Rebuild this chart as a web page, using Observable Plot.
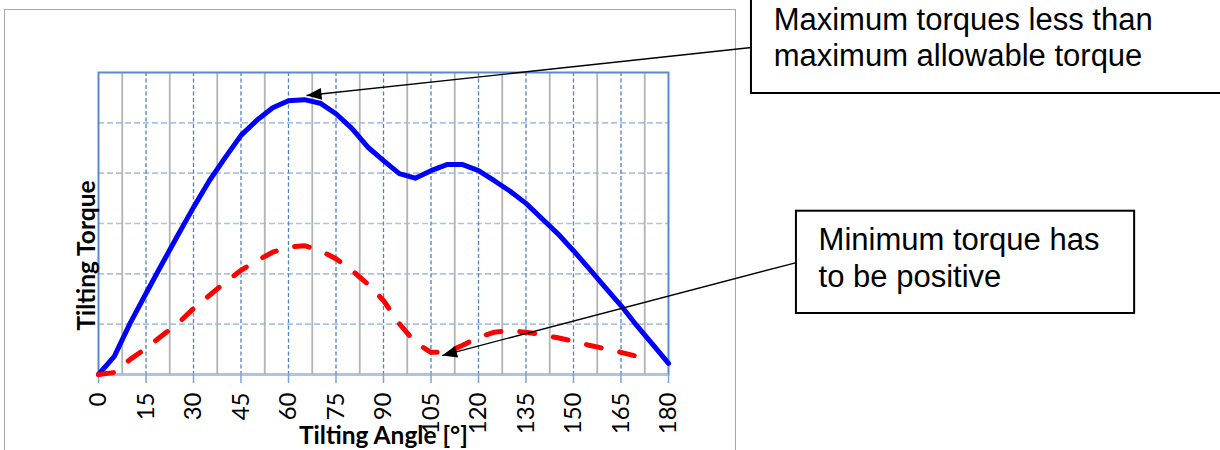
<!DOCTYPE html>
<html>
<head>
<meta charset="utf-8">
<script src="https://cdn.jsdelivr.net/npm/d3@7"></script>
<script src="https://cdn.jsdelivr.net/npm/@observablehq/plot@0.6"></script>
<style>
html, body { margin: 0; padding: 0; background: #fff; }
#wrap { position: relative; width: 1220px; height: 450px; overflow: hidden; background: #fff; }
#chartArea { position: absolute; left: 4px; top: 9px; width: 732px; height: 470px; border: 1.5px solid #a6a6a6; box-sizing: border-box; }
#plot { position: absolute; left: 0; top: 0; }
</style>
</head>
<body>
<div id="wrap"><div id="chartArea"></div><div id="plot"></div></div>
<script>
// ---- data ----
const angles = [0,5,10,15,20,25,30,35,40,45,50,55,60,65,70,75,80,85,90,95,100,105,110,115,120,125,130,135,140,145,150,155,160,165,170,175,180];
const maxTorque = [0,0.36,1.02,1.61,2.19,2.76,3.32,3.85,4.31,4.75,5.05,5.3,5.44,5.46,5.39,5.18,4.89,4.52,4.25,3.99,3.9,4.05,4.17,4.17,4.05,3.85,3.64,3.4,3.1,2.8,2.46,2.1,1.73,1.37,0.97,0.6,0.22];
const minTorque = [0,0.04,0.3,0.52,0.77,1.01,1.31,1.57,1.83,2.07,2.26,2.43,2.53,2.56,2.46,2.3,2.07,1.8,1.47,1.01,0.64,0.44,0.44,0.58,0.74,0.84,0.87,0.84,0.79,0.73,0.66,0.58,0.51,0.44,0.36,0.29];
const xTicks = [0,15,30,45,60,75,90,105,120,135,150,165,180];
const xMinorGrid = [7.5,22.5,37.5,52.5,67.5,82.5,97.5,112.5,127.5,142.5,157.5,172.5];
const yGrid = [1,2,3,4,5];
const xTitle = "Tilting Angle [°]";
const yTitle = "Tilting Torque";
const noteTexts = ["Maximum torques less than\nmaximum allowable torque", "Minimum torque has\nto be positive"];
// annotation anchors in data units (angle, torque)
const noteBoxX1 = [206.2, 220.4], noteBoxX2 = [370, 327.2];
const noteBoxY1 = [5.583, 1.212], noteBoxY2 = [8.5, 3.244];
const noteTextX = [213.2, 227.4], noteTextY = [6.12, 1.734];
const noteFromX = [206.2, 220.4], noteFromY = [6.497, 2.225];
const noteTipX = [65.7, 108.5], noteTipY = [5.543, 0.377];

// ---- layout ----
const W = 1220, H = 450;
const mL = 98, mR = 552, mT = 72, mB = 76;
const xDomain = [0, 180], yDomain = [0, 6];

const maxData = angles.map((a, i) => ({angle: a, torque: maxTorque[i]}));
const minData = minTorque.map((t, i) => ({angle: angles[i], torque: t}));

const sx = Plot.scale({x: {domain: xDomain, range: [mL, W - mR]}});
const sy = Plot.scale({y: {domain: yDomain, range: [H - mB, mT]}});
const notes = noteTexts.map((t, i) => {
  const dx = sx.apply(noteTipX[i]) - sx.apply(noteFromX[i]);
  const dy = sy.apply(noteTipY[i]) - sy.apply(noteFromY[i]);
  return {
    text: t, bx1: noteBoxX1[i], bx2: noteBoxX2[i], by1: noteBoxY1[i], by2: noteBoxY2[i],
    tx: noteTextX[i], ty: noteTextY[i], fx: noteFromX[i], fy: noteFromY[i],
    px: noteTipX[i], py: noteTipY[i], rot: Math.atan2(dx, -dy) * 180 / Math.PI
  };
});
const arrowHead = {draw(ctx) { ctx.moveTo(0, 0); ctx.lineTo(-6, 15); ctx.lineTo(6, 15); ctx.closePath(); }};

const chart = Plot.plot({
  width: W, height: H,
  marginLeft: mL, marginRight: mR, marginTop: mT, marginBottom: mB,
  style: {background: "transparent", overflow: "visible"},
  x: {domain: xDomain, range: [mL, W - mR]},
  y: {domain: yDomain, range: [H - mB, mT], axis: null},
  marks: [
    Plot.ruleY(yGrid, {stroke: "#a9c3e9", strokeWidth: 1.6, strokeDasharray: "6,3"}),
    Plot.ruleX(xMinorGrid, {stroke: "#b3b3b3", strokeWidth: 1.8}),
    Plot.ruleX(xTicks.slice(1, -1), {stroke: "#4f82c6", strokeWidth: 1.3, strokeDasharray: "4,2.5"}),
    Plot.frame({stroke: "#5a89cc", strokeWidth: 2}),
    Plot.ruleY([0], {stroke: "#a9c3e9", strokeWidth: 2}),
    Plot.axisX({ticks: xTicks, tickSize: 9, tickPadding: 9, tickRotate: -90, stroke: "#7ea3da", strokeWidth: 1.5,
      fill: "black", fontSize: 24, fontFamily: "Lato", label: null, tickFormat: d => String(d)}),
    Plot.text([xTitle], {text: d => d, frameAnchor: "bottom", textAnchor: "middle", dy: 69, lineAnchor: "bottom", fontWeight: "bold", fontSize: 24.5, fontFamily: "Lato", fill: "black"}),
    Plot.text([yTitle], {text: d => d, frameAnchor: "left", textAnchor: "middle", rotate: -90, dx: -4, dy: 32, lineAnchor: "bottom", fontWeight: "bold", fontSize: 24.5, fontFamily: "Lato", fill: "black"}),
    Plot.line(maxData, {x: "angle", y: "torque", stroke: "#0000ff", strokeWidth: 5, strokeLinejoin: "round"}),
    Plot.line(minData, {x: "angle", y: "torque", stroke: "#ff0000", strokeWidth: 5, strokeDasharray: "15,19", strokeLinecap: "round", strokeLinejoin: "round"}),
    Plot.link(notes, {x1: "fx", y1: "fy", x2: "px", y2: "py", stroke: "black", strokeWidth: 1.3}),
    Plot.dot(notes, {x: "px", y: "py", symbol: arrowHead, rotate: "rot", fill: "black", stroke: "none"}),
    Plot.rect(notes, {x1: "bx1", x2: "bx2", y1: "by1", y2: "by2", fill: "white", stroke: "black", strokeWidth: 2}),
    Plot.text(notes, {x: "tx", y: "ty", text: "text", textAnchor: "start", lineAnchor: "bottom", lineHeight: 1.19,
      fontSize: 31, fontFamily: "Liberation Sans", fill: "black"})
  ]
});
document.getElementById("plot").appendChild(chart);
</script>
</body>
</html>
